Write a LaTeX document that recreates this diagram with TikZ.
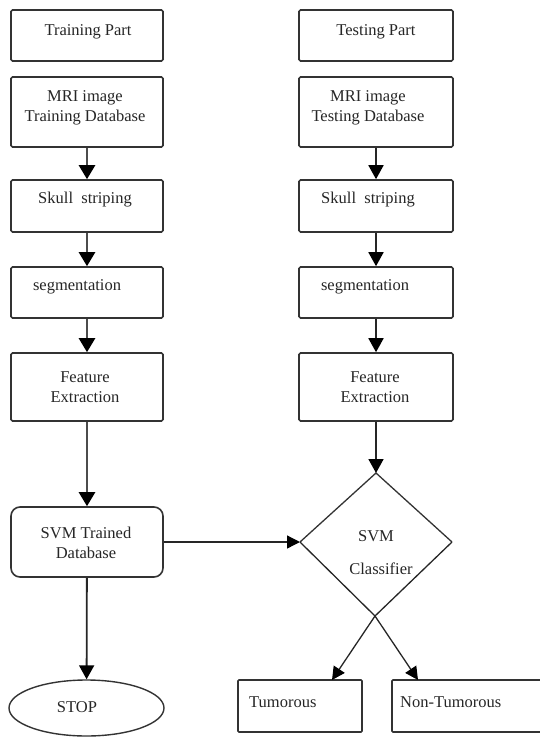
\documentclass[tikz,border=0pt]{standalone}
\usepackage{fontspec}
\setmainfont{Liberation Serif}
\usetikzlibrary{arrows.meta,shapes.geometric}
\tikzset{
  box/.style={draw=black!80, line width=1.6pt, rounded corners=1.5pt, inner sep=0pt},
  txt/.style={inner sep=0pt, align=center, font=\fontsize{16.5}{20}\selectfont, text=black!85},
  arrL/.style={draw=black!70, line width=2.6pt, -{Triangle[width=16pt,length=14pt,color=black]}},
  arrR/.style={draw=black!85, line width=1.8pt, -{Triangle[width=15pt,length=14pt,color=black]}},
  arrT/.style={draw=black!85, line width=1.3pt, -{Triangle[width=13pt,length=13pt,color=black]}},
}
\begin{document}
\begin{tikzpicture}[x=1pt,y=-1pt]
\useasboundingbox (0,0) rectangle (539,737);
% left column boxes
\node[box, minimum width=152pt, minimum height=51pt] (tp) at (87,35.5) {};
\node[box, minimum width=152pt, minimum height=70pt] (mriL) at (87,112) {};
\node[box, minimum width=152pt, minimum height=52pt] (skL) at (87,206) {};
\node[box, minimum width=152pt, minimum height=51pt] (segL) at (87,292.5) {};
\node[box, minimum width=152pt, minimum height=68pt] (feL) at (87,387) {};
\node[box, rounded corners=9pt, minimum width=152pt, minimum height=70pt] (svm) at (87,542) {};
\node[draw=black!80, line width=1.4pt, ellipse, inner sep=0pt, minimum width=155pt, minimum height=56pt] (stop) at (86.5,708) {};
% right column boxes
\node[box, minimum width=154pt, minimum height=51pt] (tsp) at (376,35.5) {};
\node[box, minimum width=154pt, minimum height=70pt] (mriR) at (376,112) {};
\node[box, minimum width=154pt, minimum height=52pt] (skR) at (376,206) {};
\node[box, minimum width=154pt, minimum height=51pt] (segR) at (376,292.5) {};
\node[box, minimum width=154pt, minimum height=68pt] (feR) at (376,387) {};
% diamond
\coordinate (dT) at (376,473);
\coordinate (dL) at (300,542);
\coordinate (dR) at (452,542);
\coordinate (dB) at (375,616);
\draw[draw=black!80, line width=1.3pt] (dL) -- (dT) -- (dR);
% output boxes
\node[box, rounded corners=1pt, minimum width=124pt, minimum height=52pt] (tum) at (300,706) {};
\node[box, rounded corners=1pt, minimum width=152pt, minimum height=52pt] (ntum) at (468,706) {};
\coordinate (tumtip) at (332,680);
\coordinate (ntumtip) at (418,680);
% texts
\node[txt] (t1) at (88,32) {Training Part};
\node[txt] (t2) at (376,32) {Testing Part};
\node[txt] (t3) at (85,108) {MRI image\\Training Database};
\node[txt] (t4) at (368,108) {MRI image\\Testing Database};
\node[txt] (t5) at (85,200) {Skull\ \ striping};
\node[txt] (t6) at (368,200) {Skull\ \ striping};
\node[txt] (t7) at (77,287) {segmentation};
\node[txt] (t8) at (365,287) {segmentation};
\node[txt] (t9) at (85,387) {Feature\\Extraction};
\node[txt] (t10) at (375,387) {Feature\\Extraction};
\node[txt] (t11) at (86,543) {SVM Trained\\Database};
\node[txt] (t12) at (376,536) {SVM};
\node[txt] (t13) at (381,569) {Classifier};
\node[txt] (t14) at (77,707) {STOP};
\node[txt, anchor=west] (t15) at (249,702) {Tumorous};
\node[txt, anchor=west] (t16) at (400,702) {Non-Tumorous};
% arrows left
\draw[arrL] (mriL) -- (skL);
\draw[arrL] (skL) -- (segL);
\draw[arrL] (segL) -- (feL);
\draw[arrL] (feL) -- (svm);
\draw[arrR] (svm) -- (stop);
% arrows right
\draw[arrR] (mriR) -- (skR);
\draw[arrR] (skR) -- (segR);
\draw[arrR] (segR) -- (feR);
\draw[arrR] (feR) -- (dT);
\draw[arrT] (svm.east) -- (dL);
\draw[arrT] (dL) -- (dB) -- (ntumtip);
\draw[arrT] (dR) -- (dB) -- (tumtip);
\end{tikzpicture}
\end{document}
